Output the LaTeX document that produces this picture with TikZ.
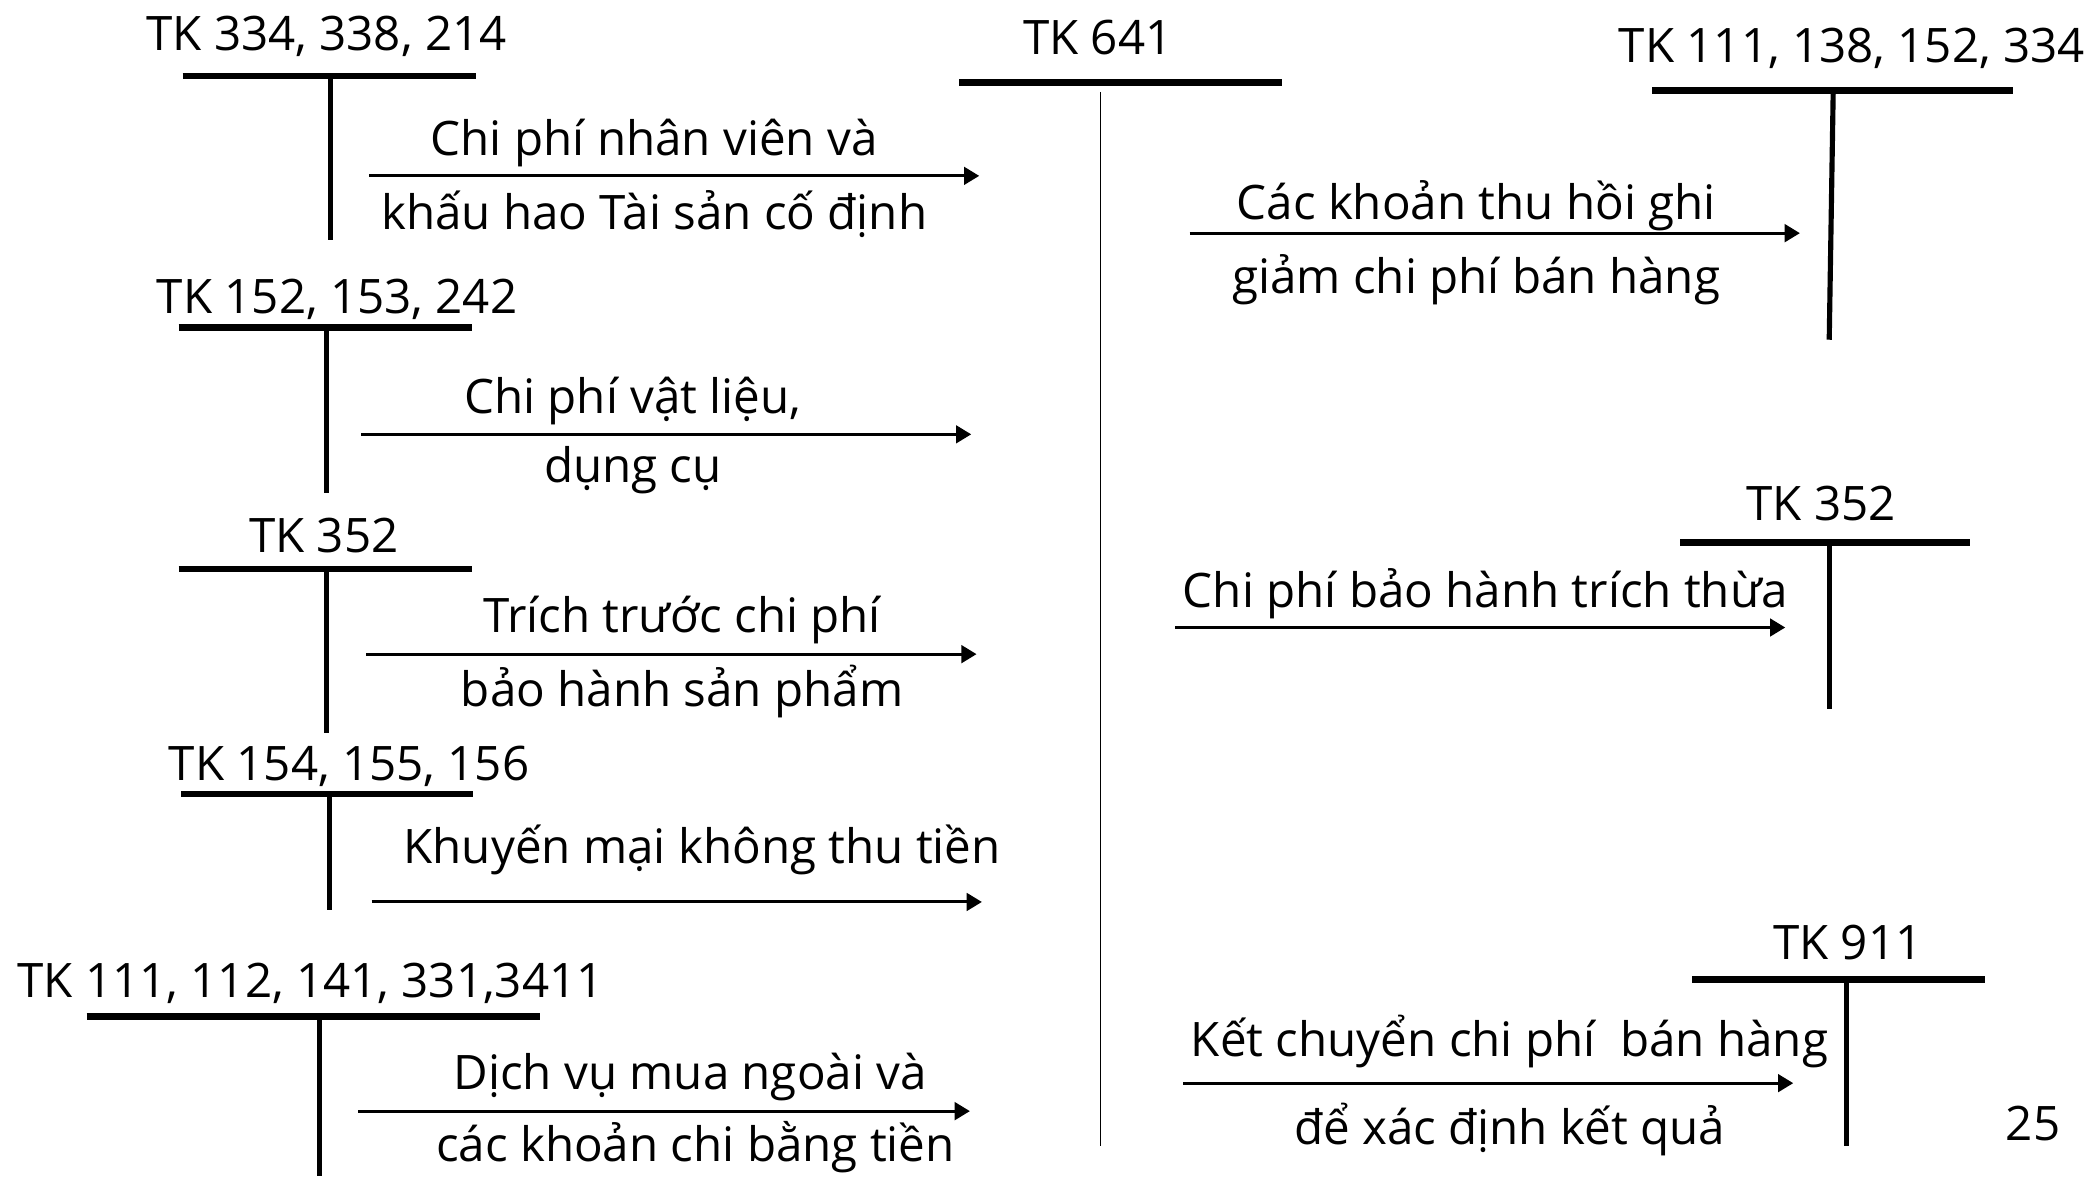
\documentclass[tikz,border=0pt]{standalone}
\usepackage{fontspec}
\setmainfont{Open Sans}
\usepackage{tikz}
\usetikzlibrary{arrows.meta}

\tikzset{
	tbar/.style={line width=2.8pt},
	tstem/.style={line width=2.2pt},
	axis641/.style={line width=0.8pt},
	flow/.style={line width=1.3pt, -{Triangle[length=6.5pt, width=7.5pt]}},
	lbl/.style={font=\fontsize{20.3}{24}\selectfont, inner sep=0pt, anchor=base},
}

\begin{document}
\begin{tikzpicture}[x=0.02cm, y=-0.02cm]
		\useasboundingbox (0,0) rectangle (1568,883);

		% TK 641
		\node[lbl] (t641) at (824,41) {TK 641};
		\draw[tbar] (720,62) -- (962,62);
		\coordinate (m641) at (826,69);
		\coordinate (e641) at (826,860);
		\draw[axis641] (m641) -- (e641);

		% left accounts
		\node[lbl] (t334) at (245,38) {TK 334, 338, 214};
		\draw[tbar] (137,57) -- (357,57);
		\draw[tstem] (248,57) -- (248,180);
		\coordinate (f1s) at (277,132);
		\coordinate (f1e) at (735,132);
		\draw[flow] (f1s) -- (f1e);
		\node[lbl] (f1a) at (491,117) {Chi phí nhân viên và};
		\node[lbl] (f1b) at (491,172) {khấu hao Tài sản cố định};

		\node[lbl] (t152) at (253,235) {TK 152, 153, 242};
		\draw[tbar] (134,246) -- (354,246);
		\draw[tstem] (245,246) -- (245,370);
		\coordinate (f2s) at (271,326);
		\coordinate (f2e) at (729,326);
		\draw[flow] (f2s) -- (f2e);
		\node[lbl] (f2a) at (475,310) {Chi phí vật liệu,};
		\node[lbl] (f2b) at (475,362) {dụng cụ};

		\node[lbl] (t352a) at (243,415) {TK 352};
		\draw[tbar] (134,427) -- (354,427);
		\draw[tstem] (245,427) -- (245,550);
		\coordinate (f3s) at (275,491);
		\coordinate (f3e) at (733,491);
		\draw[flow] (f3s) -- (f3e);
		\node[lbl] (f3a) at (512,475) {Trích trước chi phí};
		\node[lbl] (f3b) at (512,530) {bảo hành sản phẩm};

		\node[lbl] (t154) at (262,586) {TK 154, 155, 156};
		\draw[tbar] (136,596) -- (355,596);
		\draw[tstem] (247,596) -- (247,683);
		\coordinate (f4s) at (279,677);
		\coordinate (f4e) at (737,677);
		\draw[flow] (f4s) -- (f4e);
		\node[lbl] (f4a) at (527,648) {Khuyến mại không thu tiền};

		\node[lbl] (t111) at (233,749) {TK 111, 112, 141, 331,3411};
		\draw[tbar] (65,763) -- (405,763);
		\draw[tstem] (240,763) -- (240,883);
		\coordinate (f5s) at (269,834);
		\coordinate (f5e) at (728,834);
		\draw[flow] (f5s) -- (f5e);
		\node[lbl] (f5a) at (518,818) {Dịch vụ mua ngoài và};
		\node[lbl] (f5b) at (522,872) {các khoản chi bằng tiền};

		% right accounts
		\node[lbl] (t138) at (1390,47) {TK 111, 138, 152, 334};
		\draw[tbar] (1240,68) -- (1511,68);
		\draw[tstem] (1376,68) -- (1373,255);
		\coordinate (g1s) at (893,175);
		\coordinate (g1e) at (1351,175);
		\draw[flow] (g1s) -- (g1e);
		\node[lbl] (g1a) at (1108,165) {Các khoản thu hồi ghi};
		\node[lbl] (g1b) at (1108,220) {giảm chi phí bán hàng};

		\node[lbl] (t352b) at (1367,391) {TK 352};
		\draw[tbar] (1261,407) -- (1479,407);
		\draw[tstem] (1373,407) -- (1373,532);
		\coordinate (g2s) at (882,471);
		\coordinate (g2e) at (1340,471);
		\draw[flow] (g2s) -- (g2e);
		\node[lbl] (g2a) at (1115,456) {Chi phí bảo hành trích thừa};

		\node[lbl] (t911) at (1387,720) {TK 911};
		\draw[tbar] (1270,735) -- (1490,735);
		\draw[tstem] (1386,735) -- (1386,860);
		\coordinate (g3s) at (888,813);
		\coordinate (g3e) at (1346,813);
		\draw[flow] (g3s) -- (g3e);
		\node[lbl] (g3a) at (1133,793) {Kết chuyển chi phí\ \ bán hàng};
		\node[lbl] (g3b) at (1133,859) {để xác định kết quả};

		\node[lbl] (page) at (1526,856) {25};
	\end{tikzpicture}
\end{document}
